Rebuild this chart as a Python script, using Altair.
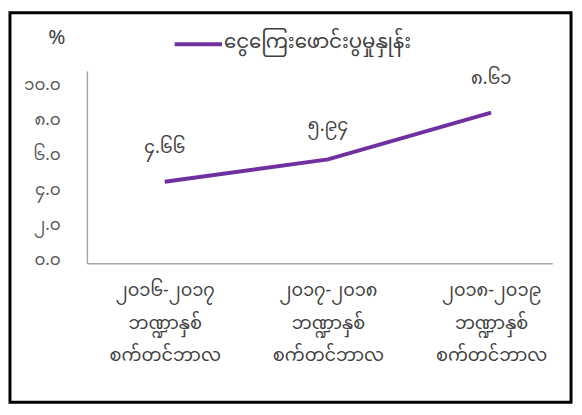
import altair as alt
import pandas as pd

# ---- data ----
periods = ["၂၀၁၆-၂၀၁၇", "၂၀၁၇-၂၀၁၈", "၂၀၁၈-၂၀၁၉"]
period_line2 = "ဘဏ္ဍာနှစ်"
period_line3 = "စက်တင်ဘာလ"
rates = [4.66, 5.94, 8.61]
rate_labels = ["၄.၆၆", "၅.၉၄", "၈.၆၁"]
series_name = "ငွေကြေးဖောင်းပွမှုနှုန်း"
y_tick_values = [0, 2, 4, 6, 8, 10]
y_tick_labels = ["၀.၀", "၂.၀", "၄.၀", "၆.၀", "၈.၀", "၁၀.၀"]
y_unit = "%"

df = pd.DataFrame({"period": periods, "rate": rates, "label": rate_labels})

FONT = "Noto Sans Myanmar, Padauk, Myanmar Text, Noto Sans, DejaVu Sans"
PURPLE = "#7030A0"

y_label_expr = "[" + ",".join("'%s'" % s for s in y_tick_labels) + "][round(datum.value / 2)]"
x_label_expr = "[datum.label, '%s', '%s']" % (period_line2, period_line3)

x_enc = alt.X(
    "period:N",
    sort=None,
    scale=alt.Scale(type="point", padding=0.426, align=0.56),
    axis=alt.Axis(
        title=None, labelAngle=0, ticks=False, grid=False,
        labelExpr=x_label_expr, labelFont=FONT, labelFontSize=18,
        labelColor="#404040", labelLineHeight=33, labelBaseline="top",
        labelPadding=19, domainColor="#A6A6A6", domainWidth=1.5,
    ),
)
y_enc = alt.Y(
    "rate:Q",
    scale=alt.Scale(domain=[0, 11], nice=False, zero=True),
    axis=alt.Axis(
        values=y_tick_values, labelExpr=y_label_expr, ticks=False, grid=False,
        labelFont=FONT, labelFontSize=17, labelColor="#595959", labelPadding=27,
        labelOffset=-4,
        domainColor="#A6A6A6", domainWidth=1.5,
        title=y_unit, titleAngle=0, titleX=-31, titleY=-34, titleAlign="center",
        titleBaseline="middle", titleFont=FONT, titleFontSize=21,
        titleFontWeight="normal", titleColor="#404040",
    ),
)

base = alt.Chart(df).encode(x=x_enc, y=y_enc)
line = base.mark_line(color=PURPLE, strokeWidth=4)
labels = base.mark_text(dy=-34, fontSize=18, font=FONT, color="#404040").encode(text="label:N")

leg_df = pd.DataFrame({"series": [series_name]})
leg_line = alt.Chart(leg_df).mark_rule(color=PURPLE, strokeWidth=4).encode(
    x=alt.value(89), x2=alt.value(137), y=alt.value(-27)
)
leg_text = alt.Chart(leg_df).mark_text(
    align="left", baseline="middle", fontSize=20, font=FONT, color="#404040"
).encode(x=alt.value(139), y=alt.value(-29), text="series:N")

border = alt.Chart(leg_df).mark_rect(
    fillOpacity=0, stroke="black", strokeWidth=3
).encode(x=alt.value(-78), x2=alt.value(491), y=alt.value(-59), y2=alt.value(336))

chart = (
    alt.layer(line, labels, leg_line, leg_text, border)
    .properties(
        width=472,
        height=195,
        autosize=alt.AutoSizeParams(type="none"),
        padding={"left": 80, "top": 61, "right": 22, "bottom": 143},
        background="white",
    )
    .configure_view(stroke=None)
)

chart.save("out.html", embed_options={"renderer": "svg", "actions": False})
